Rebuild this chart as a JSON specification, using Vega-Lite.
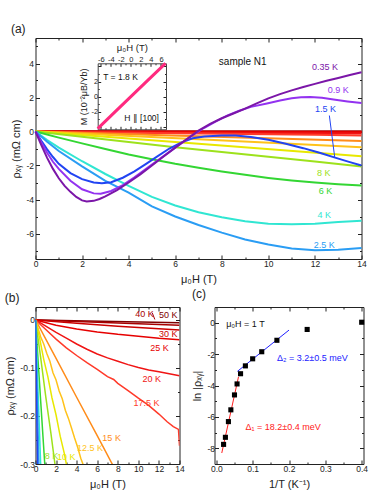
{
  "$schema": "https://vega.github.io/schema/vega-lite/v6.json",
  "padding": {"left": 3.5, "top": 22, "right": 4, "bottom": 4},
  "config": {
    "font": "Liberation Sans",
    "view": {"stroke": "#222", "strokeWidth": 1},
    "axis": {"domain": false, "grid": false, "tickColor": "#222", "tickWidth": 1, "labelFontSize": 8.5, "labelColor": "#222", "titleFontSize": 11, "titleFontWeight": "normal", "titleColor": "#222", "labelPadding": 4, "labelFlush": false, "labelOverlap": false, "labelBound": false, "titlePadding": 4},
    "title": {"fontSize": 12, "fontWeight": "normal", "anchor": "start", "frame": "bounds", "offset": 2, "color": "#222"},
    "text": {"fontSize": 9}
  },
  "datasets": {
    "a": [
      {"s":"50 K","H":0,"r":0},{"s":"50 K","H":14,"r":-0.006},
      {"s":"40 K","H":0,"r":0},{"s":"40 K","H":14,"r":-0.012},
      {"s":"30 K","H":0,"r":0},{"s":"30 K","H":7,"r":-0.011},{"s":"30 K","H":14,"r":-0.021},
      {"s":"25 K","H":0,"r":0},{"s":"25 K","H":2,"r":-0.011},{"s":"25 K","H":4,"r":-0.019},{"s":"25 K","H":7,"r":-0.028},{"s":"25 K","H":10,"r":-0.034},{"s":"25 K","H":14,"r":-0.041},
      {"s":"20 K","H":0,"r":0},{"s":"20 K","H":2,"r":-0.026},{"s":"20 K","H":4,"r":-0.05},{"s":"20 K","H":6,"r":-0.071},{"s":"20 K","H":8,"r":-0.086},{"s":"20 K","H":10,"r":-0.099},{"s":"20 K","H":12,"r":-0.108},{"s":"20 K","H":14,"r":-0.116},
      {"s":"17.5 K","H":0,"r":0},{"s":"17.5 K","H":2,"r":-0.04},{"s":"17.5 K","H":4,"r":-0.074},{"s":"17.5 K","H":6,"r":-0.103},{"s":"17.5 K","H":8,"r":-0.132},{"s":"17.5 K","H":10,"r":-0.163},{"s":"17.5 K","H":12,"r":-0.196},{"s":"17.5 K","H":14,"r":-0.235},
      {"s":"15 K","H":0,"r":0},{"s":"15 K","H":7,"r":-0.28},{"s":"15 K","H":14,"r":-0.56},
      {"s":"12.5 K","H":0,"r":0},{"s":"12.5 K","H":7,"r":-0.46},{"s":"12.5 K","H":14,"r":-0.92},
      {"s":"10 K","H":0,"r":0},{"s":"10 K","H":7,"r":-0.72},{"s":"10 K","H":14,"r":-1.45},
      {"s":"8 K","H":0,"r":0},{"s":"8 K","H":2,"r":-0.31},{"s":"8 K","H":4,"r":-0.62},{"s":"8 K","H":6,"r":-0.92},{"s":"8 K","H":8,"r":-1.2},{"s":"8 K","H":10,"r":-1.48},{"s":"8 K","H":12,"r":-1.77},{"s":"8 K","H":14,"r":-2.06},
      {"s":"6 K","H":0,"r":0},{"s":"6 K","H":1,"r":-0.36},{"s":"6 K","H":2,"r":-0.7},{"s":"6 K","H":3,"r":-1.03},{"s":"6 K","H":4,"r":-1.35},{"s":"6 K","H":5,"r":-1.63},{"s":"6 K","H":6,"r":-1.9},{"s":"6 K","H":7,"r":-2.13},{"s":"6 K","H":8,"r":-2.35},{"s":"6 K","H":9,"r":-2.55},{"s":"6 K","H":10,"r":-2.73},{"s":"6 K","H":11,"r":-2.88},{"s":"6 K","H":12,"r":-3.0},{"s":"6 K","H":13,"r":-3.1},{"s":"6 K","H":14,"r":-3.17},
      {"s":"4 K","H":0,"r":0},{"s":"4 K","H":0.5,"r":-0.5},{"s":"4 K","H":1,"r":-0.95},{"s":"4 K","H":2,"r":-1.75},{"s":"4 K","H":3,"r":-2.5},{"s":"4 K","H":4,"r":-3.2},{"s":"4 K","H":5,"r":-3.85},{"s":"4 K","H":6,"r":-4.35},{"s":"4 K","H":7,"r":-4.75},{"s":"4 K","H":8,"r":-5.05},{"s":"4 K","H":9,"r":-5.28},{"s":"4 K","H":10,"r":-5.42},{"s":"4 K","H":11,"r":-5.45},{"s":"4 K","H":12,"r":-5.42},{"s":"4 K","H":13,"r":-5.33},{"s":"4 K","H":14,"r":-5.25},
      {"s":"2.5 K","H":0,"r":0},{"s":"2.5 K","H":0.5,"r":-0.6},{"s":"2.5 K","H":1,"r":-1.15},{"s":"2.5 K","H":2,"r":-2.05},{"s":"2.5 K","H":3,"r":-2.9},{"s":"2.5 K","H":4,"r":-3.6},{"s":"2.5 K","H":5,"r":-4.4},{"s":"2.5 K","H":6,"r":-5.0},{"s":"2.5 K","H":7,"r":-5.5},{"s":"2.5 K","H":8,"r":-5.95},{"s":"2.5 K","H":9,"r":-6.35},{"s":"2.5 K","H":10,"r":-6.65},{"s":"2.5 K","H":11,"r":-6.88},{"s":"2.5 K","H":12,"r":-6.98},{"s":"2.5 K","H":13,"r":-6.95},{"s":"2.5 K","H":14,"r":-6.85},
      {"s":"1.5 K","H":0,"r":0},{"s":"1.5 K","H":0.25,"r":-0.55},{"s":"1.5 K","H":0.5,"r":-1.05},{"s":"1.5 K","H":0.75,"r":-1.5},{"s":"1.5 K","H":1,"r":-1.9},{"s":"1.5 K","H":1.5,"r":-2.45},{"s":"1.5 K","H":2,"r":-2.8},{"s":"1.5 K","H":2.5,"r":-3.0},{"s":"1.5 K","H":2.85,"r":-3.05},{"s":"1.5 K","H":3.25,"r":-2.98},{"s":"1.5 K","H":3.75,"r":-2.72},{"s":"1.5 K","H":4.25,"r":-2.35},{"s":"1.5 K","H":4.75,"r":-1.9},{"s":"1.5 K","H":5.25,"r":-1.45},{"s":"1.5 K","H":5.75,"r":-1.0},{"s":"1.5 K","H":6.25,"r":-0.65},{"s":"1.5 K","H":6.75,"r":-0.4},{"s":"1.5 K","H":7.25,"r":-0.3},{"s":"1.5 K","H":8,"r":-0.24},{"s":"1.5 K","H":8.6,"r":-0.24},{"s":"1.5 K","H":9.25,"r":-0.32},{"s":"1.5 K","H":10,"r":-0.49},{"s":"1.5 K","H":10.75,"r":-0.72},{"s":"1.5 K","H":11.5,"r":-0.98},{"s":"1.5 K","H":12.2,"r":-1.25},{"s":"1.5 K","H":12.9,"r":-1.55},{"s":"1.5 K","H":13.5,"r":-1.8},{"s":"1.5 K","H":14,"r":-2.0},
      {"s":"0.9 K","H":0,"r":0},{"s":"0.9 K","H":0.25,"r":-0.65},{"s":"0.9 K","H":0.5,"r":-1.25},{"s":"0.9 K","H":0.75,"r":-1.78},{"s":"0.9 K","H":1,"r":-2.2},{"s":"0.9 K","H":1.5,"r":-2.9},{"s":"0.9 K","H":2,"r":-3.4},{"s":"0.9 K","H":2.5,"r":-3.64},{"s":"0.9 K","H":2.8,"r":-3.66},{"s":"0.9 K","H":3.25,"r":-3.5},{"s":"0.9 K","H":3.75,"r":-3.15},{"s":"0.9 K","H":4.25,"r":-2.7},{"s":"0.9 K","H":4.75,"r":-2.2},{"s":"0.9 K","H":5.25,"r":-1.7},{"s":"0.9 K","H":5.75,"r":-1.2},{"s":"0.9 K","H":6.25,"r":-0.7},{"s":"0.9 K","H":6.75,"r":-0.22},{"s":"0.9 K","H":7.25,"r":0.22},{"s":"0.9 K","H":7.75,"r":0.6},{"s":"0.9 K","H":8.25,"r":0.95},{"s":"0.9 K","H":8.75,"r":1.22},{"s":"0.9 K","H":9.25,"r":1.45},{"s":"0.9 K","H":9.94,"r":1.65},{"s":"0.9 K","H":10.5,"r":1.82},{"s":"0.9 K","H":11,"r":1.95},{"s":"0.9 K","H":11.4,"r":2.02},{"s":"0.9 K","H":11.8,"r":2.03},{"s":"0.9 K","H":12.3,"r":1.98},{"s":"0.9 K","H":12.8,"r":1.88},{"s":"0.9 K","H":13.4,"r":1.77},{"s":"0.9 K","H":14,"r":1.67},
      {"s":"0.35 K","H":0,"r":0},{"s":"0.35 K","H":0.25,"r":-0.8},{"s":"0.35 K","H":0.5,"r":-1.55},{"s":"0.35 K","H":0.75,"r":-2.2},{"s":"0.35 K","H":1,"r":-2.75},{"s":"0.35 K","H":1.25,"r":-3.2},{"s":"0.35 K","H":1.5,"r":-3.55},{"s":"0.35 K","H":1.75,"r":-3.85},{"s":"0.35 K","H":2,"r":-4.05},{"s":"0.35 K","H":2.2,"r":-4.12},{"s":"0.35 K","H":2.5,"r":-4.08},{"s":"0.35 K","H":2.75,"r":-3.97},{"s":"0.35 K","H":3,"r":-3.82},{"s":"0.35 K","H":3.5,"r":-3.45},{"s":"0.35 K","H":4,"r":-3.0},{"s":"0.35 K","H":4.5,"r":-2.52},{"s":"0.35 K","H":5,"r":-2.0},{"s":"0.35 K","H":5.5,"r":-1.47},{"s":"0.35 K","H":6,"r":-0.95},{"s":"0.35 K","H":6.5,"r":-0.45},{"s":"0.35 K","H":7,"r":0.05},{"s":"0.35 K","H":7.5,"r":0.45},{"s":"0.35 K","H":8,"r":0.78},{"s":"0.35 K","H":8.5,"r":1.06},{"s":"0.35 K","H":9,"r":1.35},{"s":"0.35 K","H":9.5,"r":1.65},{"s":"0.35 K","H":10,"r":1.95},{"s":"0.35 K","H":10.5,"r":2.2},{"s":"0.35 K","H":11,"r":2.42},{"s":"0.35 K","H":11.5,"r":2.62},{"s":"0.35 K","H":12,"r":2.8},{"s":"0.35 K","H":12.5,"r":2.98},{"s":"0.35 K","H":13,"r":3.15},{"s":"0.35 K","H":13.5,"r":3.32},{"s":"0.35 K","H":14,"r":3.48}
    ],
    "alab": [
      {"s":"0.35 K","H":12.43,"r":3.78},{"s":"0.9 K","H":13.0,"r":2.45},{"s":"1.5 K","H":12.45,"r":1.33},
      {"s":"8 K","H":12.38,"r":-2.45},{"s":"6 K","H":12.45,"r":-3.51},{"s":"4 K","H":12.4,"r":-4.94},{"s":"2.5 K","H":12.4,"r":-6.65}
    ],
    "ins": [{"h":-6.6,"m":-4.22},{"h":-3,"m":-1.9},{"h":0,"m":0},{"h":3,"m":1.92},{"h":6.9,"m":4.4}],
    "b": [
      {"s":"50 K","H":0,"r":0},{"s":"50 K","H":14,"r":-0.006},
      {"s":"40 K","H":0,"r":0},{"s":"40 K","H":14,"r":-0.011},
      {"s":"30 K","H":0,"r":0},{"s":"30 K","H":4,"r":-0.007},{"s":"30 K","H":8,"r":-0.013},{"s":"30 K","H":14,"r":-0.021},
      {"s":"25 K","H":0,"r":0},{"s":"25 K","H":2,"r":-0.011},{"s":"25 K","H":4,"r":-0.019},{"s":"25 K","H":6,"r":-0.025},{"s":"25 K","H":8,"r":-0.03},{"s":"25 K","H":10,"r":-0.034},{"s":"25 K","H":12,"r":-0.038},{"s":"25 K","H":14,"r":-0.041},
      {"s":"20 K","H":0,"r":0},{"s":"20 K","H":1,"r":-0.013},{"s":"20 K","H":2,"r":-0.026},{"s":"20 K","H":3,"r":-0.038},{"s":"20 K","H":4,"r":-0.05},{"s":"20 K","H":5,"r":-0.061},{"s":"20 K","H":6,"r":-0.071},{"s":"20 K","H":7,"r":-0.079},{"s":"20 K","H":8,"r":-0.086},{"s":"20 K","H":9,"r":-0.093},{"s":"20 K","H":10,"r":-0.099},{"s":"20 K","H":11,"r":-0.104},{"s":"20 K","H":12,"r":-0.108},{"s":"20 K","H":13,"r":-0.112},{"s":"20 K","H":14,"r":-0.116},
      {"s":"17.5 K","H":0,"r":0},{"s":"17.5 K","H":1,"r":-0.02},{"s":"17.5 K","H":2,"r":-0.04},{"s":"17.5 K","H":3,"r":-0.058},{"s":"17.5 K","H":4,"r":-0.074},{"s":"17.5 K","H":5,"r":-0.089},{"s":"17.5 K","H":6,"r":-0.103},{"s":"17.5 K","H":7,"r":-0.118},{"s":"17.5 K","H":7.6,"r":-0.124},{"s":"17.5 K","H":8,"r":-0.132},{"s":"17.5 K","H":9,"r":-0.147},{"s":"17.5 K","H":10,"r":-0.163},{"s":"17.5 K","H":11,"r":-0.178},{"s":"17.5 K","H":12,"r":-0.196},{"s":"17.5 K","H":12.8,"r":-0.212},{"s":"17.5 K","H":13.4,"r":-0.222},{"s":"17.5 K","H":13.9,"r":-0.228},{"s":"17.5 K","H":14,"r":-0.262},
      {"s":"15 K","H":0,"r":0},{"s":"15 K","H":2,"r":-0.08},{"s":"15 K","H":4,"r":-0.161},{"s":"15 K","H":6,"r":-0.241},{"s":"15 K","H":8,"r":-0.322},
      {"s":"12.5 K","H":0,"r":0},{"s":"12.5 K","H":0.5,"r":-0.035},{"s":"12.5 K","H":0.8,"r":-0.05},{"s":"12.5 K","H":1.1,"r":-0.07},{"s":"12.5 K","H":1.4,"r":-0.086},{"s":"12.5 K","H":1.7,"r":-0.11},{"s":"12.5 K","H":2.0,"r":-0.125},{"s":"12.5 K","H":2.3,"r":-0.148},{"s":"12.5 K","H":2.6,"r":-0.164},{"s":"12.5 K","H":2.9,"r":-0.188},{"s":"12.5 K","H":3.2,"r":-0.205},{"s":"12.5 K","H":3.5,"r":-0.225},{"s":"12.5 K","H":3.8,"r":-0.246},{"s":"12.5 K","H":4.1,"r":-0.265},{"s":"12.5 K","H":4.4,"r":-0.288},{"s":"12.5 K","H":4.7,"r":-0.305},{"s":"12.5 K","H":5,"r":-0.325},
      {"s":"10 K","H":0,"r":0},{"s":"10 K","H":0.4,"r":-0.038},{"s":"10 K","H":0.8,"r":-0.082},{"s":"10 K","H":1.2,"r":-0.118},{"s":"10 K","H":1.6,"r":-0.162},{"s":"10 K","H":2.0,"r":-0.198},{"s":"10 K","H":2.4,"r":-0.242},{"s":"10 K","H":2.8,"r":-0.278},{"s":"10 K","H":3.2,"r":-0.322},
      {"s":"8 K","H":0,"r":0},{"s":"8 K","H":0.5,"r":-0.078},{"s":"8 K","H":1,"r":-0.16},{"s":"8 K","H":1.5,"r":-0.236},{"s":"8 K","H":2,"r":-0.318},
      {"s":"6 K","H":0,"r":0},{"s":"6 K","H":0.5,"r":-0.168},{"s":"6 K","H":1,"r":-0.333},
      {"s":"4 K","H":0,"r":0},{"s":"4 K","H":0.55,"r":-0.33},
      {"s":"2.5 K","H":0,"r":0},{"s":"2.5 K","H":0.36,"r":-0.33},
      {"s":"1.5 K","H":0,"r":0},{"s":"1.5 K","H":0.22,"r":-0.33}
    ],
    "blab": [
      {"s":"40 K","H":10.6,"r":0.013},{"s":"50 K","H":12.9,"r":0.011},{"s":"30 K","H":12.9,"r":-0.03},{"s":"25 K","H":12.05,"r":-0.058},
      {"s":"20 K","H":11.3,"r":-0.124},{"s":"17.5 K","H":10.8,"r":-0.172},{"s":"15 K","H":7.4,"r":-0.245},{"s":"12.5 K","H":5.3,"r":-0.266},
      {"s":"10 K","H":3.0,"r":-0.285},{"s":"8 K","H":1.55,"r":-0.283}
    ],
    "c": [
      {"it":0.02,"ln":-7.75},{"it":0.025,"ln":-7.3},{"it":0.0333,"ln":-6.3},{"it":0.04,"ln":-5.55},{"it":0.05,"ln":-4.6},{"it":0.0571,"ln":-3.9},{"it":0.0667,"ln":-3.25},{"it":0.08,"ln":-2.75},{"it":0.1,"ln":-2.3},{"it":0.125,"ln":-1.85},{"it":0.1667,"ln":-1.12},{"it":0.25,"ln":-0.43},{"it":0.4,"ln":0.03}
    ],
    "cfit": [
      {"f":1,"it":0.015,"ln":-8.3},{"f":1,"it":0.061,"ln":-3.45},
      {"f":2,"it":0.058,"ln":-3.1},{"f":2,"it":0.2,"ln":-0.47}
    ]
  },
  "spacing": 48,
  "bounds": "flush",
  "vconcat": [
    {
      "width": 326,
      "height": 221,
      "title": {"text": "(a)"},
      "layer": [
        {
          "layer": [
            {
              "data": {"name": "a"},
              "mark": {"type": "line", "strokeWidth": 2},
              "encoding": {
                "x": {"field": "H", "type": "quantitative", "scale": {"domain": [0, 14], "nice": false, "zero": false},
                  "axis": {"orient": "bottom", "values": [0,1,2,3,4,5,6,7,8,9,10,11,12,13,14], "labelExpr": "datum.value % 2 ? '' : '' + datum.value", "tickSize": {"condition": {"test": "datum.value % 2 !== 0", "value": -2}, "value": -4}, "title": "μ₀H (T)"}},
                "y": {"field": "r", "type": "quantitative", "scale": {"domain": [-7.5, 5.5], "nice": false, "zero": false},
                  "axis": {"orient": "left", "values": [-7,-6,-5,-4,-3,-2,-1,0,1,2,3,4,5], "labelExpr": "datum.value % 2 ? '' : '' + datum.value", "tickSize": {"condition": {"test": "datum.value % 2 !== 0", "value": -2}, "value": -4}, "title": "ρₓᵧ (mΩ cm)", "labelPadding": 6}},
                "color": {"field": "s", "type": "nominal", "legend": null,
                  "scale": {"domain": ["0.35 K","0.9 K","1.5 K","2.5 K","4 K","6 K","8 K","10 K","12.5 K","15 K","17.5 K","20 K","25 K","30 K","40 K","50 K"],
                            "range": ["#7b16a8","#9332f0","#2244f2","#2a9df4","#30e6d2","#33d633","#9de21c","#e8e800","#ffc21a","#ff8c1a","#ff3a2a","#f01414","#e60000","#cc0000","#a80000","#800000"]}}
              }
            },
            {
              "data": {"name": "a"},
              "mark": {"type": "line", "opacity": 0},
              "encoding": {
                "x": {"field": "H", "type": "quantitative", "axis": {"orient": "top", "labels": false, "title": null, "values": [0,1,2,3,4,5,6,7,8,9,10,11,12,13,14], "tickSize": {"condition": {"test": "datum.value % 2 !== 0", "value": -2}, "value": -4}}},
                "y": {"field": "r", "type": "quantitative", "axis": {"orient": "right", "labels": false, "title": null, "values": [-7,-6,-5,-4,-3,-2,-1,0,1,2,3,4,5], "tickSize": {"condition": {"test": "datum.value % 2 !== 0", "value": -2}, "value": -4}}}
              }
            },
            {
              "data": {"name": "alab"},
              "mark": {"type": "text", "fontSize": 9, "align": "center", "baseline": "middle"},
              "encoding": {
                "x": {"field": "H", "type": "quantitative", "axis": null},
                "y": {"field": "r", "type": "quantitative", "axis": null},
                "text": {"field": "s"},
                "color": {"field": "s", "type": "nominal", "legend": null}
              }
            },
            {
              "data": {"values": [{"H": 8.9, "r": 4.06, "t": "sample N1"}]},
              "mark": {"type": "text", "fontSize": 10, "align": "center", "baseline": "middle", "color": "#111"},
              "encoding": {
                "x": {"field": "H", "type": "quantitative", "axis": null},
                "y": {"field": "r", "type": "quantitative", "axis": null},
                "text": {"field": "t"}
              }
            },
            {
              "data": {"values": [{"H": 12.62, "r": 0.94, "H2": 12.85, "r2": -1.53}]},
              "mark": {"type": "rule", "color": "#2244f2", "strokeWidth": 1},
              "encoding": {
                "x": {"field": "H", "type": "quantitative", "axis": null},
                "y": {"field": "r", "type": "quantitative", "axis": null},
                "x2": {"field": "H2"},
                "y2": {"field": "r2"}
              }
            }
          ],
          "resolve": {"axis": {"x": "independent", "y": "independent"}}
        },
        {
          "layer": [
            {
              "data": {"name": "ins"},
              "mark": {"type": "line", "color": "#ff2a7f", "strokeWidth": 3},
              "encoding": {
                "x": {"field": "h", "type": "quantitative", "scale": {"domain": [-6.6, 7], "range": [62.2, 130.5], "nice": false, "zero": false},
                  "axis": {"orient": "top", "offset": -25.3, "values": [-6,-5,-4,-3,-2,-1,0,1,2,3,4,5,6], "labelExpr": "datum.value % 2 ? '' : '' + datum.value", "tickSize": {"condition": {"test": "datum.value % 2 !== 0", "value": -1.5}, "value": -3}, "labelPadding": 3, "labelFontSize": 7.5, "title": "μ₀H (T)", "titleFontSize": 9.5, "titlePadding": 1, "domain": true, "domainColor": "#444"}},
                "y": {"field": "m", "type": "quantitative", "scale": {"domain": [-4.3, 4.4], "range": [91.3, 25.3], "nice": false, "zero": false},
                  "axis": {"orient": "left", "offset": -62.2, "values": [-4,-3,-2,-1,0,1,2,3,4], "labelExpr": "(datum.value % 2 == 0 && abs(datum.value) <= 2) ? '' + datum.value : ''", "tickSize": {"condition": {"test": "datum.value % 2 !== 0", "value": -1.5}, "value": -3}, "labelPadding": 3, "labelFontSize": 7.5, "title": "M (10⁻²μB/Yb)", "titleFontSize": 9, "titlePadding": 3, "domain": true, "domainColor": "#444"}}
              }
            },
            {
              "data": {"name": "ins"},
              "mark": {"type": "line", "opacity": 0},
              "encoding": {
                "x": {"field": "h", "type": "quantitative", "axis": {"orient": "bottom", "offset": -129.7, "labels": false, "title": null, "values": [-6,-5,-4,-3,-2,-1,0,1,2,3,4,5,6], "tickSize": {"condition": {"test": "datum.value % 2 !== 0", "value": -1.5}, "value": -3}, "domain": true, "domainColor": "#444"}},
                "y": {"field": "m", "type": "quantitative", "axis": {"orient": "right", "offset": -195.5, "labels": false, "title": null, "values": [-4,-3,-2,-1,0,1,2,3,4], "tickSize": {"condition": {"test": "datum.value % 2 !== 0", "value": -1.5}, "value": -3}, "domain": true, "domainColor": "#444"}}
              }
            },
            {
              "data": {"values": [{"h": -5.5, "m": 2.63, "t": "T = 1.8 K"}]},
              "mark": {"type": "text", "fontSize": 8.5, "align": "left", "baseline": "middle", "color": "#111"},
              "encoding": {
                "x": {"field": "h", "type": "quantitative", "axis": null},
                "y": {"field": "m", "type": "quantitative", "axis": null},
                "text": {"field": "t"}
              }
            },
            {
              "data": {"values": [{"h": 5.6, "m": -2.84, "t": "H ∥ [100]"}]},
              "mark": {"type": "text", "fontSize": 8.5, "align": "right", "baseline": "middle", "color": "#111"},
              "encoding": {
                "x": {"field": "h", "type": "quantitative", "axis": null},
                "y": {"field": "m", "type": "quantitative", "axis": null},
                "text": {"field": "t"}
              }
            }
          ],
          "resolve": {"axis": {"x": "independent", "y": "independent"}}
        }
      ],
      "resolve": {"scale": {"x": "independent", "y": "independent"}}
    },
    {
      "spacing": 35,
      "bounds": "flush",
      "hconcat": [
        {
          "width": 144,
          "height": 157,
          "title": {"text": "(b)"},
          "layer": [
            {
              "data": {"name": "b"},
              "mark": {"type": "line", "strokeWidth": 1.5, "clip": true},
              "encoding": {
                "x": {"field": "H", "type": "quantitative", "scale": {"domain": [0, 14], "nice": false, "zero": false},
                  "axis": {"orient": "bottom", "values": [0,1,2,3,4,5,6,7,8,9,10,11,12,13,14], "labelExpr": "datum.value % 2 ? '' : '' + datum.value", "tickSize": {"condition": {"test": "datum.value % 2 !== 0", "value": -2}, "value": -4}, "title": "μ₀H (T)"}},
                "y": {"field": "r", "type": "quantitative", "scale": {"domain": [-0.3, 0.027], "nice": false, "zero": false},
                  "axis": {"orient": "left", "values": [0,-0.05,-0.1,-0.15,-0.2,-0.25,-0.3], "labelExpr": "abs(datum.value*10 - round(datum.value*10)) < 0.000001 ? '' + round(datum.value*10)/10 : ''", "tickSize": {"condition": {"test": "abs(datum.value*10 - round(datum.value*10)) > 0.000001", "value": -2}, "value": -4}, "title": "ρₓᵧ (mΩ cm)", "labelPadding": 5}},
                "color": {"field": "s", "type": "nominal", "legend": null,
                  "scale": {"domain": ["0.35 K","0.9 K","1.5 K","2.5 K","4 K","6 K","8 K","10 K","12.5 K","15 K","17.5 K","20 K","25 K","30 K","40 K","50 K"],
                            "range": ["#7b16a8","#9332f0","#2244f2","#2a9df4","#30e6d2","#33d633","#9de21c","#e8e800","#ffc21a","#ff8c1a","#ff3a2a","#f01414","#e60000","#cc0000","#a80000","#800000"]}}
              }
            },
            {
              "data": {"name": "b"},
              "mark": {"type": "line", "opacity": 0},
              "encoding": {
                "x": {"field": "H", "type": "quantitative", "axis": {"orient": "top", "labels": false, "title": null, "values": [0,1,2,3,4,5,6,7,8,9,10,11,12,13,14], "tickSize": {"condition": {"test": "datum.value % 2 !== 0", "value": -2}, "value": -4}}},
                "y": {"field": "r", "type": "quantitative", "axis": {"orient": "right", "labels": false, "title": null, "values": [0,-0.05,-0.1,-0.15,-0.2,-0.25,-0.3], "tickSize": {"condition": {"test": "abs(datum.value*10 - round(datum.value*10)) > 0.000001", "value": -2}, "value": -4}}}
              }
            },
            {
              "data": {"name": "blab"},
              "mark": {"type": "text", "fontSize": 9, "align": "center", "baseline": "middle"},
              "encoding": {
                "x": {"field": "H", "type": "quantitative", "axis": null},
                "y": {"field": "r", "type": "quantitative", "axis": null},
                "text": {"field": "s"},
                "color": {"field": "s", "type": "nominal", "legend": null}
              }
            },
            {
              "data": {"values": [{"H": 11.35, "r": 0.015, "H2": 11.6, "r2": 0.001}]},
              "mark": {"type": "rule", "color": "#a80000", "strokeWidth": 1},
              "encoding": {
                "x": {"field": "H", "type": "quantitative", "axis": null},
                "y": {"field": "r", "type": "quantitative", "axis": null},
                "x2": {"field": "H2"},
                "y2": {"field": "r2"}
              }
            }
          ],
          "resolve": {"axis": {"x": "independent", "y": "independent"}}
        },
        {
          "width": 149,
          "height": 157,
          "title": {"text": "(c)"},
          "layer": [
            {
              "data": {"name": "cfit"},
              "transform": [{"filter": "datum.f == 1"}],
              "mark": {"type": "line", "color": "#ff2020", "strokeWidth": 1},
              "encoding": {
                "x": {"field": "it", "type": "quantitative", "scale": {"domain": [-0.005, 0.405], "nice": false, "zero": false},
                  "axis": {"orient": "bottom", "values": [0,0.05,0.1,0.15,0.2,0.25,0.3,0.35,0.4], "labelExpr": "abs(datum.value*10 - round(datum.value*10)) < 0.000001 ? format(datum.value, '.1f') : ''", "tickSize": {"condition": {"test": "abs(datum.value*10 - round(datum.value*10)) > 0.000001", "value": -2}, "value": -4}, "title": "1/T (K⁻¹)"}},
                "y": {"field": "ln", "type": "quantitative", "scale": {"domain": [-9, 1], "nice": false, "zero": false},
                  "axis": {"orient": "left", "values": [-9,-8,-7,-6,-5,-4,-3,-2,-1,0,1], "labelExpr": "datum.value % 2 ? '' : '' + datum.value", "tickSize": {"condition": {"test": "datum.value % 2 !== 0", "value": -2}, "value": -4}, "title": "ln |ρₓᵧ|"}}
              }
            },
            {
              "data": {"name": "cfit"},
              "transform": [{"filter": "datum.f == 2"}],
              "mark": {"type": "line", "color": "#2020ff", "strokeWidth": 1},
              "encoding": {
                "x": {"field": "it", "type": "quantitative", "axis": {"orient": "top", "labels": false, "title": null, "values": [0,0.05,0.1,0.15,0.2,0.25,0.3,0.35,0.4], "tickSize": {"condition": {"test": "abs(datum.value*10 - round(datum.value*10)) > 0.000001", "value": -2}, "value": -4}}},
                "y": {"field": "ln", "type": "quantitative", "axis": {"orient": "right", "labels": false, "title": null, "values": [-9,-8,-7,-6,-5,-4,-3,-2,-1,0,1], "tickSize": {"condition": {"test": "datum.value % 2 !== 0", "value": -2}, "value": -4}}}
              }
            },
            {
              "data": {"name": "c"},
              "mark": {"type": "square", "size": 26, "color": "#000", "opacity": 1},
              "encoding": {
                "x": {"field": "it", "type": "quantitative", "axis": null},
                "y": {"field": "ln", "type": "quantitative", "axis": null}
              }
            },
            {
              "data": {"values": [{"it": 0.027, "ln": -0.07, "t": "μ₀H = 1 T"}]},
              "mark": {"type": "text", "fontSize": 9, "align": "left", "baseline": "middle", "color": "#111"},
              "encoding": {
                "x": {"field": "it", "type": "quantitative", "axis": null},
                "y": {"field": "ln", "type": "quantitative", "axis": null},
                "text": {"field": "t"}
              }
            },
            {
              "data": {"values": [{"it": 0.167, "ln": -2.24, "t": "Δ₂ = 3.2±0.5 meV"}]},
              "mark": {"type": "text", "fontSize": 9, "align": "left", "baseline": "middle", "color": "#2020ff"},
              "encoding": {
                "x": {"field": "it", "type": "quantitative", "axis": null},
                "y": {"field": "ln", "type": "quantitative", "axis": null},
                "text": {"field": "t"}
              }
            },
            {
              "data": {"values": [{"it": 0.08, "ln": -6.65, "t": "Δ₁ = 18.2±0.4 meV"}]},
              "mark": {"type": "text", "fontSize": 9, "align": "left", "baseline": "middle", "color": "#ff2020"},
              "encoding": {
                "x": {"field": "it", "type": "quantitative", "axis": null},
                "y": {"field": "ln", "type": "quantitative", "axis": null},
                "text": {"field": "t"}
              }
            }
          ],
          "resolve": {"axis": {"x": "independent", "y": "independent"}}
        }
      ]
    }
  ]
}
